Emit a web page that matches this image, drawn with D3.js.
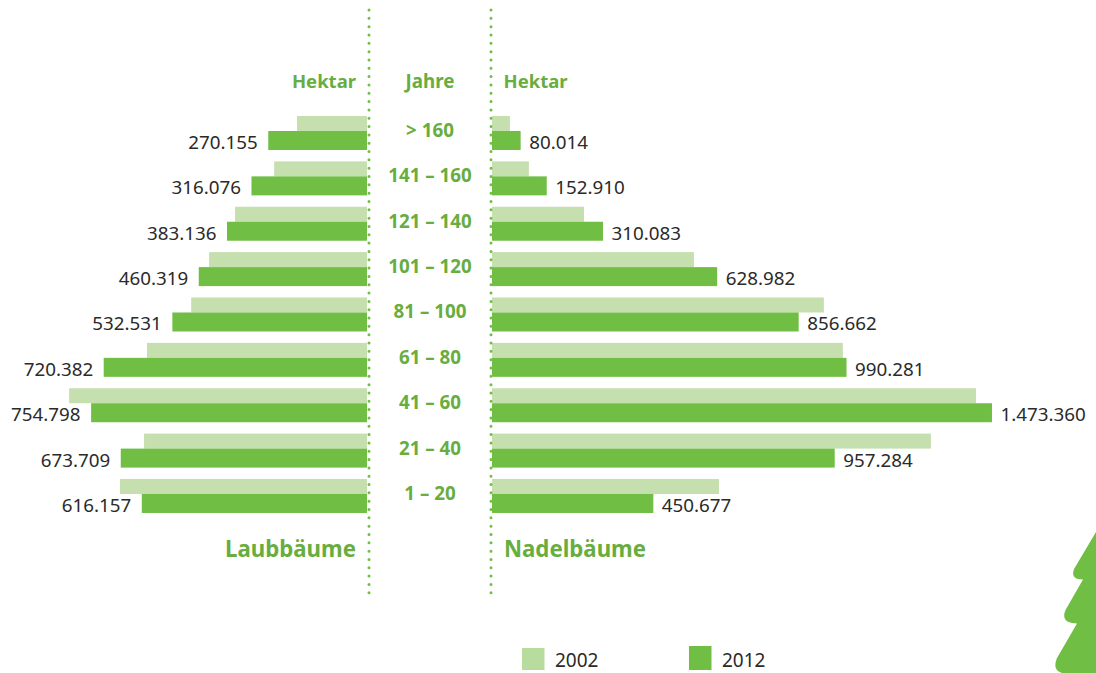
<!DOCTYPE html>
<html><head><meta charset="utf-8">
<script src="https://cdn.jsdelivr.net/npm/d3@7/dist/d3.min.js"></script>
<style>html,body{margin:0;padding:0;background:#fff}svg{display:block}text{font-family:"Noto Sans",sans-serif}</style>
</head><body><svg width="1096" height="673"></svg>
<script>
const ages = ["> 160","141 – 160","121 – 140","101 – 120","81 – 100","61 – 80","41 – 60","21 – 40","1 – 20"];
const laub2002 = [191500,254000,361000,432000,481000,602000,815000,610000,676000];
const laub2012 = [270155,316076,383136,460319,532531,720382,754798,673709,616157];
const nadel2002 = [50000,103000,257000,564000,927000,980000,1352000,1226000,634000];
const nadel2012 = [80014,152910,310083,628982,856662,990281,1396600,957284,450677];
const laubLabels = ["270.155","316.076","383.136","460.319","532.531","720.382","754.798","673.709","616.157"];
const nadelLabels = ["80.014","152.910","310.083","628.982","856.662","990.281","1.473.360","957.284","450.677"];
const years = ["2002","2012"];

const LIGHT="#c6dfae", DARK="#70bf44", GREEN="#68ad3f", INK="#2b2a29";
const svg=d3.select("svg");
const y=d3.scaleBand().domain(ages).range([116,513]).paddingInner(0.25).paddingOuter(0);
const xL=d3.scaleLinear().domain([0,1000000]).range([367,367-365.5]);
const xR=d3.scaleLinear().domain([0,1000000]).range([492,492+358]);
const lightH=15,darkH=19;

function bars(vals,x,fill,off,h){
  svg.append("g").selectAll("rect").data(vals).join("rect")
    .attr("x",d=>Math.min(x(0),x(d))).attr("width",d=>Math.abs(x(d)-x(0)))
    .attr("y",(d,i)=>y(ages[i])+off).attr("height",h).attr("fill",fill);
}
bars(laub2002,xL,LIGHT,0,lightH);
bars(nadel2002,xR,LIGHT,0,lightH);
bars(laub2012,xL,DARK,lightH,darkH);
bars(nadel2012,xR,DARK,lightH,darkH);

// dotted rules
[369,491].forEach(px=>{
  svg.append("line").attr("x1",px).attr("x2",px).attr("y1",10).attr("y2",594)
   .attr("stroke",DARK).attr("stroke-width",3).attr("stroke-linecap","round").attr("stroke-dasharray","0 8.325");
});

// value labels
svg.append("g").selectAll("text").data(laubLabels).join("text")
  .attr("x",(d,i)=>xL(laub2012[i])-10.5).attr("y",(d,i)=>y(ages[i])+33)
  .attr("text-anchor","end").attr("font-size",18.8).attr("fill",INK).text(d=>d);
svg.append("g").selectAll("text").data(nadelLabels).join("text")
  .attr("x",(d,i)=>xR(nadel2012[i])+8.5).attr("y",(d,i)=>y(ages[i])+33)
  .attr("font-size",18.8).attr("fill",INK).text(d=>d);

// age labels
svg.append("g").selectAll("text").data(ages).join("text")
  .attr("x",430).attr("y",d=>y(d)+21).attr("text-anchor","middle")
  .attr("font-size",18.8).attr("font-weight",700).attr("fill",GREEN).text(d=>d);

// headers
function head(t,x,yy,a,s,len){const n=svg.append("text").attr("x",x).attr("y",yy).attr("text-anchor",a).attr("font-size",s).attr("font-weight",700).attr("fill",GREEN).text(t);
  if(len) n.attr("textLength",len).attr("lengthAdjust","spacingAndGlyphs");}
head("Hektar",356,88,"end",18.5);
head("Jahre",430,88,"middle",18.8);
head("Hektar",503.5,88,"start",18.5);
head("Laubbäume",356,557,"end",24,131);
head("Nadelbäume",504,557,"start",24,142);

// legend
const legendX=d3.scaleOrdinal().domain(years).range([522,689]);
const legendFill=d3.scaleOrdinal().domain(years).range(["#b8dc9d",DARK]);
const legendTop=d3.scaleOrdinal().domain(years).range([648,646]);
svg.append("g").selectAll("rect").data(years).join("rect")
  .attr("x",d=>legendX(d)).attr("y",d=>legendTop(d)).attr("width",22.5).attr("height",d=>670-legendTop(d)).attr("fill",d=>legendFill(d));
svg.append("g").selectAll("text").data(years).join("text")
  .attr("x",d=>legendX(d)+33).attr("y",667).attr("font-size",19).attr("fill",INK).text(d=>d);

// tree ornament
svg.append("path").attr("fill","#70bf44")
  .attr("d","M1096,532 L1074,569 Q1071,577 1078,579 L1083,579.5 L1065.5,610 Q1061,621 1072,623 L1077,623.5 L1057,658 Q1052,670 1062,673 L1096,673 Z");
</script></body></html>
